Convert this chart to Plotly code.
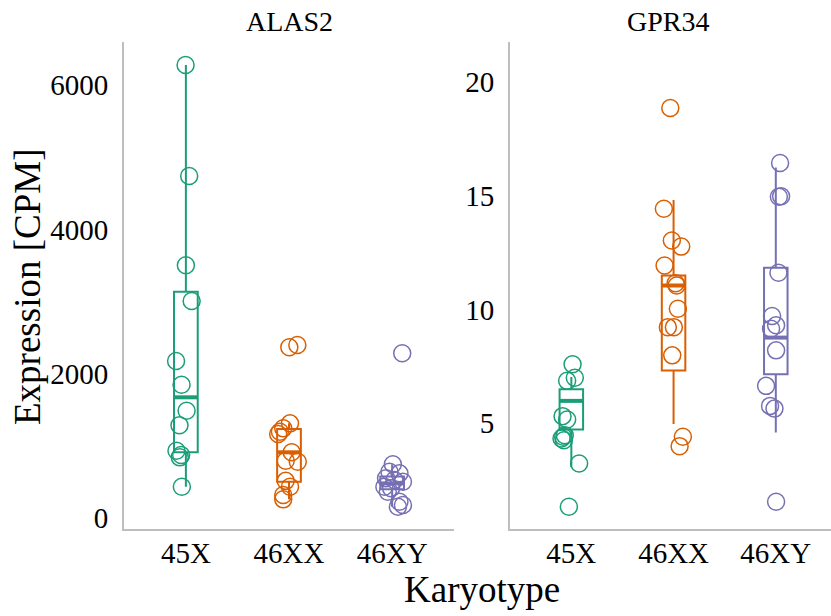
import plotly.graph_objects as go

W, H = 831, 616
FONT = "Liberation Serif"
categories = ["45X", "46XX", "46XY"]
colors = ["#1B9E77", "#D95F02", "#7570B3"]
genes = ["ALAS2", "GPR34"]

# ---- ALAS2 expression (CPM) per karyotype, with jitter offsets ----
alas2_45X = [6279, 4740, 3502, 3008, 2176, 1848, 1487, 1285, 933, 873, 841, 434]
alas2_45X_jit = [-0.003, 0.032, 0.0, 0.056, -0.095, -0.042, 0.007, -0.062, -0.091, -0.046, -0.059, -0.039]
alas2_46XX = [2398, 2366, 1312, 1243, 1196, 1164, 911, 780, 794, 515, 434, 319, 259]
alas2_46XX_jit = [0.081, 0.003, 0.01, -0.056, -0.088, -0.105, 0.026, 0.085, -0.032, -0.032, 0.01, -0.056, -0.056]
alas2_46XY = [2283, 745, 642, 619, 550, 527, 503, 434, 412, 365, 226, 180, 157]
alas2_46XY_jit = [0.098, 0.007, -0.026, 0.071, -0.059, 0.022, 0.105, -0.075, -0.01, -0.042, 0.071, 0.105, 0.056]

# ---- GPR34 expression (CPM) ----
gpr34_45X = [7.59, 7.00, 6.86, 5.31, 5.16, 4.47, 4.40, 4.33, 4.25, 3.23, 1.33]
gpr34_45X_jit = [0.012, 0.034, -0.041, -0.086, -0.041, -0.064, -0.080, -0.096, -0.073, 0.076, -0.024]
gpr34_46XX = [18.85, 14.42, 13.03, 12.76, 11.93, 11.15, 11.05, 10.03, 9.22, 9.22, 7.98, 4.40, 3.99]
gpr34_46XX_jit = [-0.032, -0.095, -0.017, 0.075, -0.088, 0.02, 0.03, 0.042, -0.056, 0.003, -0.013, 0.091, 0.059]
gpr34_46XY = [16.43, 14.97, 14.95, 11.61, 9.71, 9.30, 9.15, 8.20, 6.64, 5.76, 5.64, 1.55]
gpr34_46XY_jit = [0.042, 0.052, 0.03, 0.026, -0.036, 0.003, -0.046, 0.003, -0.095, -0.056, -0.013, 0.003]

# ---- box statistics as drawn: [q1, median, q3, lower whisker, upper whisker] ----
alas2_box = [
    [911, 1673, 3137, 434, 6279],
    [503, 911, 1234, 259, 1312],
    [400, 480, 575, 157, 745],
]
gpr34_box = [
    [4.72, 5.98, 6.49, 3.08, 7.03],
    [7.32, 11.05, 11.49, 4.96, 14.81],
    [7.15, 8.76, 11.83, 4.59, 16.24],
]

y_ticks = {"ALAS2": [0, 2000, 4000, 6000], "GPR34": [5, 10, 15, 20]}

points = {
    "ALAS2": [(alas2_45X, alas2_45X_jit), (alas2_46XX, alas2_46XX_jit), (alas2_46XY, alas2_46XY_jit)],
    "GPR34": [(gpr34_45X, gpr34_45X_jit), (gpr34_46XX, gpr34_46XX_jit), (gpr34_46XY, gpr34_46XY_jit)],
}
boxes = {"ALAS2": alas2_box, "GPR34": gpr34_box}

BOX_W = 0.23
fig = go.Figure()
for gi, gene in enumerate(genes):
    xa = "x" if gi == 0 else "x2"
    ya = "y" if gi == 0 else "y2"
    for ci, cat in enumerate(categories):
        pos = ci + 1
        q1, med, q3, lo, hi = boxes[gene][ci]
        fig.add_trace(go.Box(
            x=[pos], q1=[q1], median=[med], q3=[q3], lowerfence=[lo], upperfence=[hi],
            width=BOX_W, whiskerwidth=0, boxpoints=False,
            line=dict(color=colors[ci], width=2), fillcolor="rgba(0,0,0,0)",
            xaxis=xa, yaxis=ya, showlegend=False, hoverinfo="skip",
        ))
        fig.add_trace(go.Scatter(
            x=[pos - BOX_W / 2, pos + BOX_W / 2], y=[med, med], mode="lines",
            line=dict(color=colors[ci], width=4), xaxis=xa, yaxis=ya,
            showlegend=False, hoverinfo="skip",
        ))
        vals, jit = points[gene][ci]
        fig.add_trace(go.Scatter(
            x=[pos + j for j in jit], y=vals, mode="markers",
            marker=dict(symbol="circle-open", size=17, color=colors[ci],
                        line=dict(width=1.5, color=colors[ci])),
            xaxis=xa, yaxis=ya, showlegend=False, hoverinfo="skip",
        ))

ydom = [87 / H, 574 / H]
axis_common = dict(showgrid=False, zeroline=False, showline=True, linecolor="#BEBEBE",
                   linewidth=2, tickfont=dict(family=FONT, size=29, color="black"),
                   automargin=False)
xtick = dict(ticks="outside", ticklen=0, ticklabelstandoff=-3, tickcolor="rgba(0,0,0,0)")
ytick = dict(ticks="outside", ticklen=8, tickcolor="rgba(0,0,0,0)")
fig.update_layout(
    width=W, height=H, margin=dict(l=0, r=0, t=0, b=0),
    paper_bgcolor="white", plot_bgcolor="white",
    xaxis=dict(domain=[124 / W, 454 / W], range=[0.4, 3.6], tickvals=[1, 2, 3], ticktext=categories,
               anchor="y", **xtick, **axis_common),
    xaxis2=dict(domain=[510 / W, 1.0], range=[0.4, 3.54], tickvals=[1, 2, 3], ticktext=categories,
                anchor="y2", **xtick, **axis_common),
    yaxis=dict(domain=ydom, range=[-152, 6597], tickvals=y_ticks["ALAS2"],
               anchor="x", **ytick, **axis_common),
    yaxis2=dict(domain=ydom, range=[0.35, 21.75], tickvals=y_ticks["GPR34"],
                anchor="x2", **ytick, **axis_common),
    annotations=[
        dict(text="ALAS2", x=289 / W, y=1 - 22 / H, xref="paper", yref="paper", showarrow=False,
             font=dict(family=FONT, size=28, color="black"), xanchor="center", yanchor="middle"),
        dict(text="GPR34", x=668 / W, y=1 - 22 / H, xref="paper", yref="paper", showarrow=False,
             font=dict(family=FONT, size=28, color="black"), xanchor="center", yanchor="middle"),
        dict(text="Karyotype", x=482 / W, y=1 - 589 / H, xref="paper", yref="paper", showarrow=False,
             font=dict(family=FONT, size=37, color="black"), xanchor="center", yanchor="middle"),
        dict(text="Expression [CPM]", x=28 / W, y=1 - 287 / H, xref="paper", yref="paper",
             showarrow=False, textangle=-90,
             font=dict(family=FONT, size=37, color="black"), xanchor="center", yanchor="middle"),
    ],
)

fig.write_html("out.html")
